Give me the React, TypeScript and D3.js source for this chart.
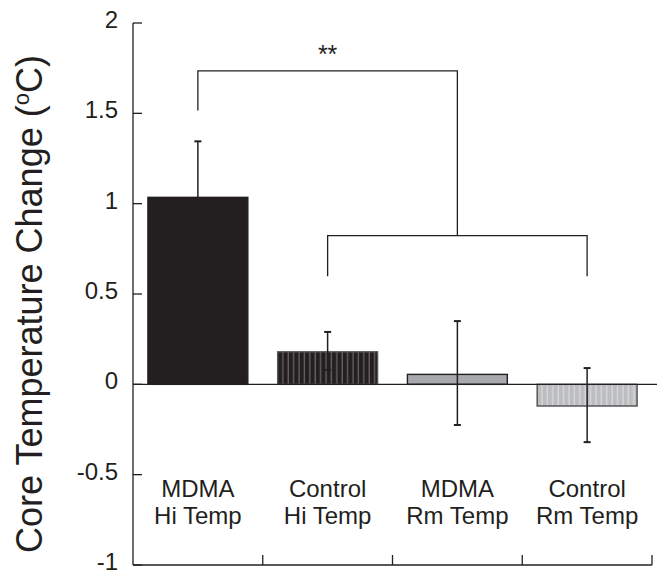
import React from "react";
import * as d3 from "d3";

const groups = ["MDMA|Hi Temp", "Control|Hi Temp", "MDMA|Rm Temp", "Control|Rm Temp"];
const means = [1.035, 0.18, 0.055, -0.12];
const errUpper = [1.345, 0.29, 0.35, 0.09];
const errLower = [0.72, 0.08, -0.225, -0.32];
const yTicks = [-1, -0.5, 0, 0.5, 1, 1.5, 2];
const yTickLabels = ["-1", "-0.5", "0", "0.5", "1", "1.5", "2"];
// significance brackets: [from group, to group, top value, leg value]
const lowerBracket = { from: 1, to: 3, top: 0.823, leg: 0.598 };
const upperBracket = { from: 0, top: 1.735, leg: 1.515, label: "**" };

const W = 657;
const H = 573;
const ink = "#231f20";
const font = "'Liberation Sans', Arial, Helvetica, sans-serif";

export default function App() {
  const x = d3.scaleBand<string>().domain(groups).range([133, 652]).padding(0);
  const y = d3.scaleLinear().domain([-1, 2]).range([565, 23]);
  const barW = x.bandwidth() * 0.77;
  const cx = (i: number) => (x(groups[i]) as number) + x.bandwidth() / 2;

  const fills = ["#231f20", "url(#darkStripe)", "#a7a9ac", "url(#lightStripe)"];
  const strokes = ["#231f20", "#555", ink, "#4d4d4d"];

  const lbX1 = cx(lowerBracket.from);
  const lbX2 = cx(lowerBracket.to);
  const lbMid = (lbX1 + lbX2) / 2;
  const ubX1 = cx(upperBracket.from);

  return (
    <svg
      width={W}
      height={H}
      style={{ position: "absolute", left: 0, top: 0, background: "#fff" }}
      fontFamily={font}
    >
      <defs>
        <pattern id="darkStripe" width={5.4} height={10} patternUnits="userSpaceOnUse">
          <rect width={5.4} height={10} fill="#231f20" />
          <line x1={2} x2={2} y1={0} y2={10} stroke="#7a7778" strokeWidth={1} />
        </pattern>
        <pattern id="lightStripe" width={5.4} height={10} patternUnits="userSpaceOnUse">
          <rect width={5.4} height={10} fill="#bcbdc0" />
          <line x1={2} x2={2} y1={0} y2={10} stroke="#dcdcdd" strokeWidth={1.2} />
        </pattern>
      </defs>

      {/* bars */}
      {groups.map((g, i) => {
        const y0 = y(0);
        const yv = y(means[i]);
        return (
          <rect
            key={g}
            x={cx(i) - barW / 2}
            y={Math.min(y0, yv)}
            width={barW}
            height={Math.abs(y0 - yv)}
            fill={fills[i]}
            stroke={strokes[i]}
            strokeWidth={1.4}
          />
        );
      })}

      {/* zero line */}
      <line x1={133} x2={W} y1={y(0)} y2={y(0)} stroke={ink} strokeWidth={1.3} />

      {/* error bars */}
      {groups.map((g, i) => (
        <g key={"e" + g} stroke={ink} strokeWidth={1.5}>
          <line x1={cx(i)} x2={cx(i)} y1={y(errUpper[i])} y2={y(errLower[i])} />
          <line x1={cx(i) - 3.5} x2={cx(i) + 3.5} y1={y(errUpper[i])} y2={y(errUpper[i])} strokeWidth={2} />
          <line x1={cx(i) - 3.5} x2={cx(i) + 3.5} y1={y(errLower[i])} y2={y(errLower[i])} strokeWidth={2} />
        </g>
      ))}

      {/* brackets */}
      <g stroke={ink} strokeWidth={1.3} fill="none">
        <polyline
          points={`${lbX1},${y(lowerBracket.leg)} ${lbX1},${y(lowerBracket.top)} ${lbX2},${y(lowerBracket.top)} ${lbX2},${y(lowerBracket.leg)}`}
        />
        <polyline
          points={`${ubX1},${y(upperBracket.leg)} ${ubX1},${y(upperBracket.top)} ${lbMid},${y(upperBracket.top)} ${lbMid},${y(lowerBracket.top)}`}
        />
      </g>
      <text
        x={(ubX1 + lbMid) / 2}
        y={y(upperBracket.top) - 8}
        textAnchor="middle"
        fontSize={25}
        fill={ink}
      >
        {upperBracket.label}
      </text>

      {/* y axis */}
      <line x1={133} x2={133} y1={y(2)} y2={y(-1)} stroke={ink} strokeWidth={1.3} />
      {yTicks.map((t, i) => (
        <g key={"yt" + t}>
          <line x1={133} x2={142} y1={y(t)} y2={y(t)} stroke={ink} strokeWidth={1.3} />
          <text x={118} y={y(t) + 5} textAnchor="end" fontSize={24} fill={ink}>
            {yTickLabels[i]}
          </text>
        </g>
      ))}

      {/* x axis */}
      <line x1={133} x2={652} y1={y(-1)} y2={y(-1)} stroke={ink} strokeWidth={1.3} />
      {groups.map((g) => (
        <line
          key={"xt" + g}
          x1={(x(g) as number) + x.bandwidth()}
          x2={(x(g) as number) + x.bandwidth()}
          y1={y(-1)}
          y2={y(-1) - 10}
          stroke={ink}
          strokeWidth={1.3}
        />
      ))}
      {groups.map((g, i) => {
        const [a, b] = g.split("|");
        return (
          <text key={"xl" + g} textAnchor="middle" fontSize={24} fill={ink}>
            <tspan x={cx(i)} y={497}>{a}</tspan>
            <tspan x={cx(i)} y={524}>{b}</tspan>
          </text>
        );
      })}

      {/* y title */}
      <text
        transform={`translate(42, ${(48 + 560) / 2}) rotate(-90)`}
        textAnchor="middle"
        fontSize={36}
        fill={ink}
      >
        Core Temperature Change (
        <tspan fontSize={22} dy={-13}>o</tspan>
        <tspan dy={13}>C)</tspan>
      </text>
    </svg>
  );
}
